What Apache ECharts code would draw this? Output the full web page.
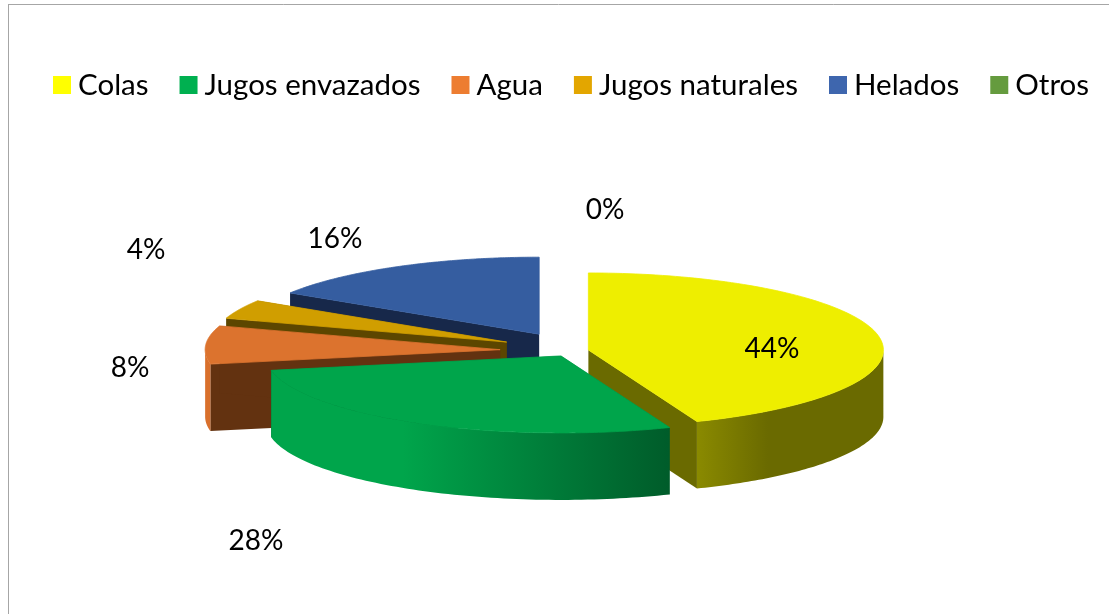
<!DOCTYPE html>
<html>
<head>
<meta charset="utf-8">
<style>html,body{margin:0;padding:0;background:#fff}#c{width:1109px;height:614px}</style>
<script src="https://cdn.jsdelivr.net/npm/echarts@6/dist/echarts.min.js"></script>
</head>
<body>
<div id="c"></div>
<script>
var categories = ['Colas', 'Jugos envazados', 'Agua', 'Jugos naturales', 'Helados', 'Otros'];
var shares = [44, 28, 8, 4, 16, 0];
var legendColors = ['#FFFF00', '#00B050', '#ED7D31', '#E3A600', '#3E66AE', '#659B3E'];
var topColors = ['#EEEE00', '#00A54B', '#DC732E', '#D09E00', '#355DA0', '#659B3E'];
var wallColors = ['#6A6A00', '#005C2A', '#633210', '#5C4600', '#17284A', '#2E4A1C'];
var explode = [18.7, 18.7, 70, 70, 64, 0];
var labelPos = [[772, 349], [256, 541], [130, 368], [146, 250], [335, 239], [605, 210]];
var drawOrder = [5, 4, 3, 2, 0, 1];

var CX = 570, CY = 351, RX = 295, RY = 77, DEPTH = 67, TILT = 0.3;
var total = shares.reduce(function (a, b) { return a + b; }, 0);
var FONT = 'Lato, "Noto Sans", sans-serif';

function startShare(i) {
  var s = 0;
  for (var k = 0; k < i; k++) s += shares[k];
  return s;
}

function renderSlice(i) {
  return function (params, api) {
    var v = api.value(0);
    var children = [];
    var a0 = startShare(i) / total * Math.PI * 2;
    var a1 = a0 + v / total * Math.PI * 2;
    var mid = (a0 + a1) / 2;
    var ox = CX + explode[i] * Math.sin(mid);
    var oy = CY - explode[i] * Math.cos(mid) * TILT;
    function pt(a, dz) {
      return [ox + RX * Math.sin(a), oy - RY * Math.cos(a) + (dz || 0)];
    }
    if (v > 0) {
      var apex = [ox, oy], apexB = [ox, oy + DEPTH];
      [a0, a1].forEach(function (a) {
        children.push({
          type: 'polygon',
          shape: { points: [apex, pt(a), pt(a, DEPTH), apexB] },
          style: { fill: wallColors[i] }
        });
      });
      // outer rim: only the part of the arc facing the viewer
      var w0 = Math.max(a0, Math.PI / 2), w1 = Math.min(a1, Math.PI * 1.5);
      if (w1 > w0) {
        var rim = [], n = 80, j;
        for (j = 0; j <= n; j++) rim.push(pt(w0 + (w1 - w0) * j / n));
        for (j = n; j >= 0; j--) rim.push(pt(w0 + (w1 - w0) * j / n, DEPTH));
        var fill = topColors[i];
        if (i === 0) {
          fill = new echarts.graphic.LinearGradient(1, 0, 0, 0, [
            { offset: 0, color: '#6A6A00' },
            { offset: 0.62, color: '#6A6A00' },
            { offset: 1, color: '#8A8A00' }
          ]);
        } else if (i === 1) {
          fill = new echarts.graphic.LinearGradient(0, 0, 1, 0, [
            { offset: 0, color: '#00A54B' },
            { offset: 0.33, color: '#00A54B' },
            { offset: 0.72, color: '#007A38' },
            { offset: 1, color: '#005C2A' }
          ]);
        } else if (i === 2) {
          fill = '#D9702C';
        }
        children.push({ type: 'polygon', shape: { points: rim }, style: { fill: fill } });
      }
      var top = [apex], m = 120;
      for (var t = 0; t <= m; t++) top.push(pt(a0 + (a1 - a0) * t / m));
      children.push({
        type: 'polygon',
        shape: { points: top },
        style: { fill: topColors[i], stroke: topColors[i], lineWidth: 0.8 }
      });
    }
    children.push({
      type: 'text',
      z2: 100,
      style: {
        x: labelPos[i][0], y: labelPos[i][1],
        text: Math.round(v / total * 100) + '%',
        fill: '#000', font: '28px ' + FONT, align: 'center', verticalAlign: 'middle'
      }
    });
    return { type: 'group', children: children };
  };
}

var series = drawOrder.map(function (i) {
  return {
    type: 'custom',
    name: categories[i],
    coordinateSystem: 'none',
    silent: true,
    animation: false,
    itemStyle: { color: legendColors[i] },
    data: [[shares[i]]],
    renderItem: renderSlice(i)
  };
});

var chart = echarts.init(document.getElementById('c'), null, { renderer: 'canvas' });
chart.setOption({
  animation: false,
  backgroundColor: '#fff',
  legend: {
    data: categories,
    left: 53,
    top: 70,
    padding: 0,
    itemWidth: 18,
    itemHeight: 18,
    itemGap: 31,
    icon: 'rect',
    selectedMode: false,
    textStyle: { fontFamily: FONT, fontSize: 29.5, color: '#000', padding: [0, 0, 0, 2] }
  },
  graphic: [
    { type: 'line', shape: { x1: 8.5, y1: 4, x2: 8.5, y2: 614 }, style: { stroke: '#A6A6A6', lineWidth: 1 } },
    { type: 'line', shape: { x1: 8, y1: 4.5, x2: 1109, y2: 4.5 }, style: { stroke: '#A6A6A6', lineWidth: 1 } }
  ],
  series: series
});
</script>
</body>
</html>
